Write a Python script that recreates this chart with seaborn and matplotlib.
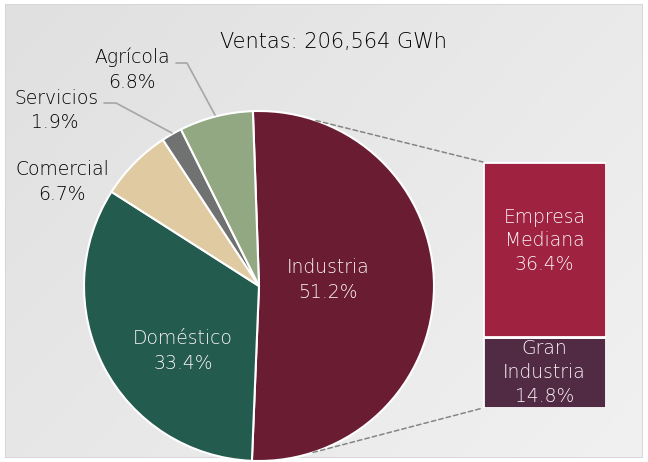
import numpy as np
import matplotlib
matplotlib.use("Agg")
import matplotlib.pyplot as plt
import seaborn as sns
from matplotlib.patches import ConnectionPatch, Rectangle

# data
sectores = ["Industria", "Doméstico", "Comercial", "Servicios", "Agrícola"]
porcentajes = [51.2, 33.4, 6.7, 1.9, 6.8]
colores_pie = ["#6a1c32", "#235b4e", "#dfcaa2", "#6f7271", "#91a883"]

industria = ["Empresa\nMediana", "Gran\nIndustria"]
industria_pct = [36.4, 14.8]
colores_bar = ["#9f2241", "#512a44"]

titulo = "Ventas: 206,564 GWh"

sns.set_theme(style="white")
plt.rcParams["font.family"] = ["DejaVu Sans"]
FW = "light"
FS = 13.5
DARK = "#000000"
LIGHT = "#fbf5f7"

fig = plt.figure(figsize=(6.48, 4.62), dpi=100)
fig.patch.set_facecolor("white")

# gradient background panel
bg = fig.add_axes([5 / 648, 4 / 462, 638 / 648, 454 / 462])
grad = np.linspace(0, 1, 256)[None, :] * 0.6 + np.linspace(0, 1, 256)[:, None] * 0.4
bg.imshow(grad, cmap=matplotlib.colors.LinearSegmentedColormap.from_list("g", ["#e0e0e0", "#f1f1f1"]),
          aspect="auto", extent=[0, 1, 0, 1], origin="upper")
bg.add_patch(Rectangle((0, 0), 1, 1, fill=False, edgecolor="#d4d4d4", lw=1.2, transform=bg.transAxes))
bg.set_axis_off()

# pie
ax = fig.add_axes([84 / 648, 1 / 462, 350 / 648, 350 / 462])
wedges, _ = ax.pie(porcentajes, colors=colores_pie, startangle=92, counterclock=False,
                   wedgeprops=dict(edgecolor="white", linewidth=1.5))
ax.set_xlim(-1, 1)
ax.set_ylim(-1, 1)
ax.set_aspect("equal")
ax.set_axis_off()


def px(x, y):
    return (x - 259) / 175, (286 - y) / 175


lbl = dict(ha="center", va="center", fontsize=FS, fontweight=FW)
ax.text(*px(328, 280), f"{sectores[0]}\n{porcentajes[0]}%", color=LIGHT, linespacing=1.35, **lbl)
ax.text(*px(183, 351), f"{sectores[1]}\n{porcentajes[1]}%", color=LIGHT, linespacing=1.4, **lbl)
ax.text(*px(62, 182), f"{sectores[2]}\n{porcentajes[2]}%", color=DARK, linespacing=1.4, **lbl)
ax.text(*px(56, 98), sectores[3], color=DARK, **lbl)
ax.text(*px(55, 123), f"{porcentajes[3]}%", color=DARK, **lbl)
ax.text(*px(132, 70), f"{sectores[4]}\n{porcentajes[4]}%", color=DARK, linespacing=1.4, **lbl)

# leader lines
ax.plot(*zip(px(104, 103), px(116, 103), px(172, 133)), color="#a6a6a6", lw=1.2, clip_on=False)
ax.plot(*zip(px(176, 63), px(187, 63), px(215, 115)), color="#a6a6a6", lw=1.2, clip_on=False)

# stacked bar
bx = fig.add_axes([483 / 648, 54 / 462, 123 / 648, 246 / 462])
bottom = 0
for nombre, val, c in zip(industria[::-1], industria_pct[::-1], colores_bar[::-1]):
    bx.bar(0, val, bottom=bottom, width=1, color=c, edgecolor="white", linewidth=2)
    bottom += val
bx.set_xlim(-0.5, 0.5)
bx.set_ylim(0, sum(industria_pct))
bx.set_axis_off()
bx.text(0, industria_pct[1] + industria_pct[0] * 0.55, f"{industria[0]}\n{industria_pct[0]}%",
        ha="center", va="center", color=LIGHT, fontsize=FS, fontweight=FW, linespacing=1.3)
bx.text(0, industria_pct[1] * 0.5, f"{industria[1]}\n{industria_pct[1]}%",
        ha="center", va="center", color=LIGHT, fontsize=FS, fontweight=FW, linespacing=1.35)

# dashed connectors
t1 = np.deg2rad(71)
t2 = np.deg2rad(-72)
for t, yb in [(t1, sum(industria_pct)), (t2, 0)]:
    con = ConnectionPatch(xyA=(np.cos(t), np.sin(t)), coordsA=ax.transData,
                          xyB=(-0.5, yb), coordsB=bx.transData,
                          color="#858585", lw=1.1, linestyle=(0, (3, 2)))
    fig.add_artist(con)

fig.text(334 / 648, 1 - 42 / 462, titulo, ha="center", va="center", fontsize=15,
         fontweight=FW, color=DARK)

fig.savefig("out.png", dpi=100, facecolor=fig.get_facecolor())
